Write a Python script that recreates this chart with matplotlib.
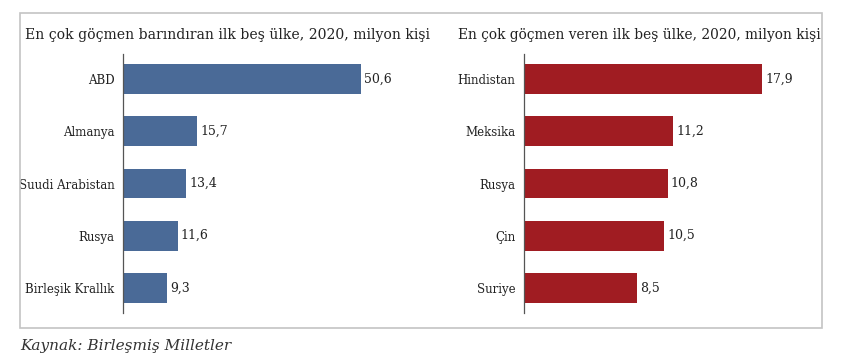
import matplotlib
matplotlib.use('agg')
import matplotlib.pyplot as plt
from matplotlib.patches import Rectangle

# data
host_countries = ["ABD", "Almanya", "Suudi Arabistan", "Rusya", "Birleşik Krallık"]
host_values = [50.6, 15.7, 13.4, 11.6, 9.3]
origin_countries = ["Hindistan", "Meksika", "Rusya", "Çin", "Suriye"]
origin_values = [17.9, 11.2, 10.8, 10.5, 8.5]

left_title = "En çok göçmen barındıran ilk beş ülke, 2020, milyon kişi"
right_title = "En çok göçmen veren ilk beş ülke, 2020, milyon kişi"
source = "Kaynak: Birleşmiş Milletler"

BLUE = '#4a6a97'
RED = '#a01c22'

plt.rcParams['font.family'] = ['DejaVu Serif']

W, H = 850, 359
fig = plt.figure(figsize=(W / 100, H / 100), dpi=100)


def px_axes(x0, y0, x1, y1):
    # pixel box (top-left origin) -> figure axes
    return fig.add_axes([x0 / W, 1 - y1 / H, (x1 - x0) / W, (y1 - y0) / H])


def draw_panel(ax, labels, values, color):
    pos = list(range(len(labels)))
    ax.barh(pos, values, height=0.57, color=color)
    ax.set_ylim(4.48, -0.48)
    ax.set_xlim(0, max(values) * 297 / 238)
    ax.set_yticks(pos)
    ax.set_yticklabels(labels, fontsize=8.5, color='#222222')
    ax.tick_params(axis='y', length=0, pad=6)
    ax.set_xticks([])
    for s in ['top', 'right', 'bottom']:
        ax.spines[s].set_visible(False)
    ax.spines['left'].set_color('#555555')
    ax.spines['left'].set_linewidth(0.9)
    for p, v in zip(pos, values):
        ax.text(v + max(values) * 0.014, p, f"{v:.1f}".replace('.', ','),
                va='center', ha='left', fontsize=9, color='#222222')


ax1 = px_axes(123, 54, 420, 313)
draw_panel(ax1, host_countries, host_values, BLUE)
ax2 = px_axes(524, 54, 821, 313)
draw_panel(ax2, origin_countries, origin_values, RED)

# outer border
fig.patches.append(Rectangle((20 / W, 1 - 328 / H), 802 / W, 315 / H,
                             transform=fig.transFigure, fill=False,
                             edgecolor='#c4c4c4', linewidth=1.2))

fig.text(25 / W, 1 - 39 / H, left_title, fontsize=10.05, va='baseline', ha='left', color='#222222')
fig.text(458 / W, 1 - 39 / H, right_title, fontsize=9.95, va='baseline', ha='left', color='#222222')
fig.text(20 / W, 1 - 350 / H, source, fontsize=11, style='italic', va='baseline', ha='left', color='#333333')

fig.savefig('out.png', dpi=100)
